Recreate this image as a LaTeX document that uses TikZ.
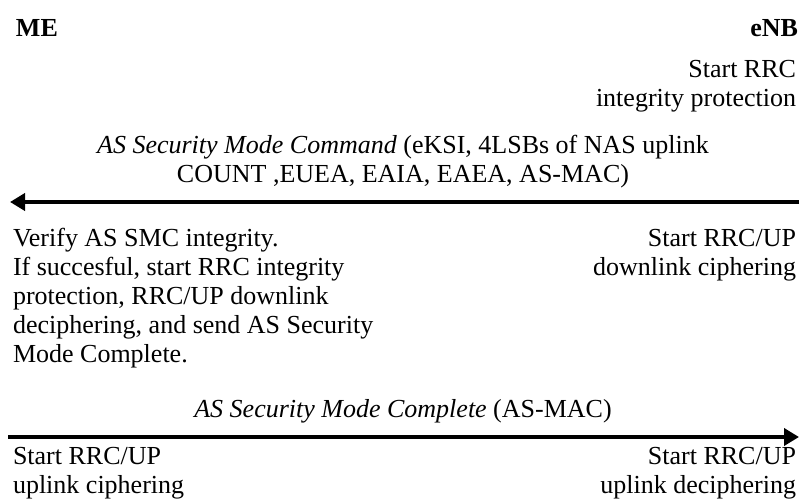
\documentclass[tikz,border=0pt]{standalone}
\usepackage{fontspec}
\setmainfont{Liberation Serif}
\usetikzlibrary{arrows.meta}

\tikzset{
  txt/.style={inner sep=0pt, outer sep=0pt, font=\fontsize{26}{29}\selectfont},
  party/.style={txt, font=\fontsize{26}{29}\selectfont\bfseries},
  msg/.style={line width=4pt, -{Triangle[length=15pt,width=17pt]}},
}
\newcommand{\lft}[1]{\begin{tabular}[t]{@{}l@{}}#1\end{tabular}}
\newcommand{\rgt}[1]{\begin{tabular}[t]{@{}r@{}}#1\end{tabular}}
\newcommand{\ctr}[1]{\begin{tabular}[t]{@{}c@{}}#1\end{tabular}}

\begin{document}
\begin{tikzpicture}[x=1pt, y=-1pt]
  \useasboundingbox (0,0) rectangle (805,502);

  % parties
  \node[party, anchor=base west] (me)  at (16,37)  {ME};
  \node[party, anchor=base east] (enb) at (798,37) {eNB};

  % eNB starts integrity protection
  \node[txt, anchor=base east] (enbint) at (796,78)
    {\rgt{Start RRC\\integrity protection}};

  % Security Mode Command
  \node[txt, anchor=base] (cmdlbl) at (403,154)
    {\ctr{\textit{AS Security Mode Command} (eKSI, 4LSBs of NAS uplink\\COUNT ,EUEA, EAIA, EAEA, AS-MAC)}};
  \coordinate (cmdfrom) at (799,202);
  \coordinate (cmdto)   at (10,202);
  \draw[msg] (cmdfrom) -- (cmdto);

  % ME verification and eNB downlink ciphering
  \node[txt, anchor=base west] (meverify) at (13,247)
    {\lft{Verify AS SMC integrity.\\If succesful, start RRC integrity\\protection, RRC/UP downlink\\deciphering, and send AS Security\\Mode Complete.}};
  \node[txt, anchor=base east] (enbdl) at (796,247)
    {\rgt{Start RRC/UP\\downlink ciphering}};

  % Security Mode Complete
  \node[txt, anchor=base] (cmplbl) at (403,417)
    {\textit{AS Security Mode Complete} (AS-MAC)};
  \coordinate (cmpfrom) at (8,437);
  \coordinate (cmpto)   at (799,437);
  \draw[msg] (cmpfrom) -- (cmpto);

  % uplink ciphering on both sides
  \node[txt, anchor=base west] (meul) at (13,464)
    {\lft{Start RRC/UP\\uplink ciphering}};
  \node[txt, anchor=base east] (enbul) at (796,464)
    {\rgt{Start RRC/UP\\uplink deciphering}};
\end{tikzpicture}
\end{document}
